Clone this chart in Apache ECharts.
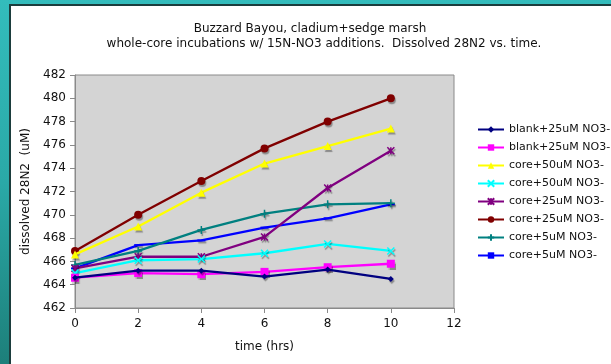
<!DOCTYPE html>
<html>
<head>
<meta charset="utf-8">
<script src="https://cdn.jsdelivr.net/npm/echarts@6/dist/echarts.min.js"></script>
<style>
    html, body { margin: 0; padding: 0; }
    body {
        width: 611px; height: 364px; overflow: hidden; position: relative;
        background: linear-gradient(to bottom, #33bcbc 0%, #2aa9a7 50%, #1d7f7a 100%);
    }
    #panel {
        position: absolute; left: 9px; top: 4px; right: 0; bottom: 0;
        background: #fff;
        border-left: 2px solid #1b3d3d;
        border-top: 2px solid #1b3d3d;
    }
    #chart { position: absolute; left: 0; top: 0; width: 611px; height: 364px; }
</style>
</head>
<body>
<div id="panel"></div>
<div id="chart"></div>
<script>
    // time points (hrs)
    var times = [0, 2, 4, 6, 8, 10];

    var seriesNames = [
        'blank+25uM NO3-',
        'blank+25uM NO3-',
        'core+50uM NO3-',
        'core+50uM NO3-',
        'core+25uM NO3-',
        'core+25uM NO3-',
        'core+5uM NO3-',
        'core+5uM NO3-'
    ];

    // dissolved 28N2 (uM)
    var blankA = [464.6, 465.2, 465.2, 464.7, 465.3, 464.5];
    var blankB = [464.6, 465.0, 464.9, 465.1, 465.5, 465.8];
    var core50A = [466.6, 469.0, 471.9, 474.4, 475.9, 477.4];
    var core50B = [465.0, 466.1, 466.2, 466.7, 467.5, 466.9];
    var core25A = [465.4, 466.4, 466.4, 468.1, 472.3, 475.5];
    var core25B = [466.9, 470.0, 472.9, 475.7, 478.0, 480.0];
    var core5A = [465.7, 466.9, 468.7, 470.1, 470.9, 471.0];
    var core5B = [465.4, 467.4, 467.8, 468.9, 469.7, 470.9];

    var yTicks = [462, 464, 466, 468, 470, 472, 474, 476, 478, 480, 482];
    var xTicks = [0, 2, 4, 6, 8, 10, 12];

    var allValues = [blankA, blankB, core50A, core50B, core25A, core25B, core5A, core5B];
    var colors = ['#000080', '#ff00ff', '#ffff00', '#00ffff', '#800080', '#800000', '#008080', '#0000ff'];
    // note: a path with zero height breaks the legend icon, so the dash is a rect
    var symbols = [
        'diamond',
        'rect',
        'triangle',
        'path://M0,0L10,10M10,0L0,10',
        'path://M0,0L10,10M10,0L0,10M5,0L5,10',
        'circle',
        'path://M5,0L5,10M0,5L10,5',
        'rect'
    ];
    var symbolSizes = [6, 8, 8, 7, 7, 8, 8, [8, 2]];
    var strokeOnly = [false, false, false, true, true, false, true, false];

    // zero-width space keeps the duplicated names apart in the legend
    var legendNames = seriesNames.map(function (n, i) { return i % 2 ? n + '\u200b' : n; });

    var series = allValues.map(function (vals, i) {
        return {
            name: legendNames[i],
            type: 'line',
            data: vals.map(function (v, k) { return [times[k], v]; }),
            symbol: symbols[i],
            symbolSize: symbolSizes[i],
            showAllSymbol: true,
            z: 10 - i,
            lineStyle: { color: colors[i], width: 2.3 },
            itemStyle: {
                color: strokeOnly[i] ? 'none' : colors[i],
                borderColor: colors[i],
                borderWidth: strokeOnly[i] ? 1.5 : 0,
                shadowColor: 'rgba(0,0,0,0.35)',
                shadowOffsetX: 1,
                shadowOffsetY: 2,
                shadowBlur: 1
            },
            emphasis: { disabled: true }
        };
    });

    var chart = echarts.init(document.getElementById('chart'), null, { renderer: 'canvas' });
    var font = 'DejaVu Sans, Verdana, sans-serif';

    chart.setOption({
        animation: false,
        textStyle: { fontFamily: font },
        title: [
            {
                text: 'Buzzard Bayou, cladium+sedge marsh',
                left: 305, top: 18, textAlign: 'center',
                textStyle: { fontSize: 12, fontWeight: 'normal', color: '#111', fontFamily: font }
            },
            {
                text: 'whole-core incubations w/ 15N-NO3 additions.  Dissolved 28N2 vs. time.',
                left: 319, top: 33, textAlign: 'center',
                textStyle: { fontSize: 12, fontWeight: 'normal', color: '#111', fontFamily: font }
            }
        ],
        grid: { left: 75, top: 75, right: 157, bottom: 56, show: true, backgroundColor: '#d4d4d4', borderColor: '#8a8a8a', borderWidth: 1 },
        legend: {
            orient: 'vertical',
            left: 472, top: 118,
            itemWidth: 26, itemHeight: 8, itemGap: 5,
            textStyle: { fontSize: 11, color: '#111', fontFamily: font, lineHeight: 13 },
            data: legendNames
        },
        xAxis: {
            type: 'value', min: 0, max: 12, interval: 2,
            name: 'time (hrs)', nameLocation: 'middle', nameGap: 33,
            nameTextStyle: { fontSize: 12, color: '#111' },
            axisLine: { lineStyle: { color: '#8a8a8a' } },
            axisTick: { show: true, length: 5, lineStyle: { color: '#8a8a8a' } },
            axisLabel: { fontSize: 12, color: '#111', margin: 10, formatter: function (v) { return xTicks.indexOf(v) >= 0 ? v : ''; } },
            splitLine: { show: false }
        },
        yAxis: {
            type: 'value', min: 462, max: 482, interval: 2,
            name: 'dissolved 28N2  (uM)', nameLocation: 'middle', nameGap: 31,
            nameTextStyle: { fontSize: 12, color: '#111' },
            axisLine: { show: true, lineStyle: { color: '#8a8a8a' } },
            axisTick: { show: true, length: 5, lineStyle: { color: '#8a8a8a' } },
            axisLabel: { fontSize: 12, color: '#111', margin: 9, formatter: function (v) { return yTicks.indexOf(v) >= 0 ? v : ''; } },
            splitLine: { show: false }
        },
        series: series
    });
</script>
</body>
</html>
